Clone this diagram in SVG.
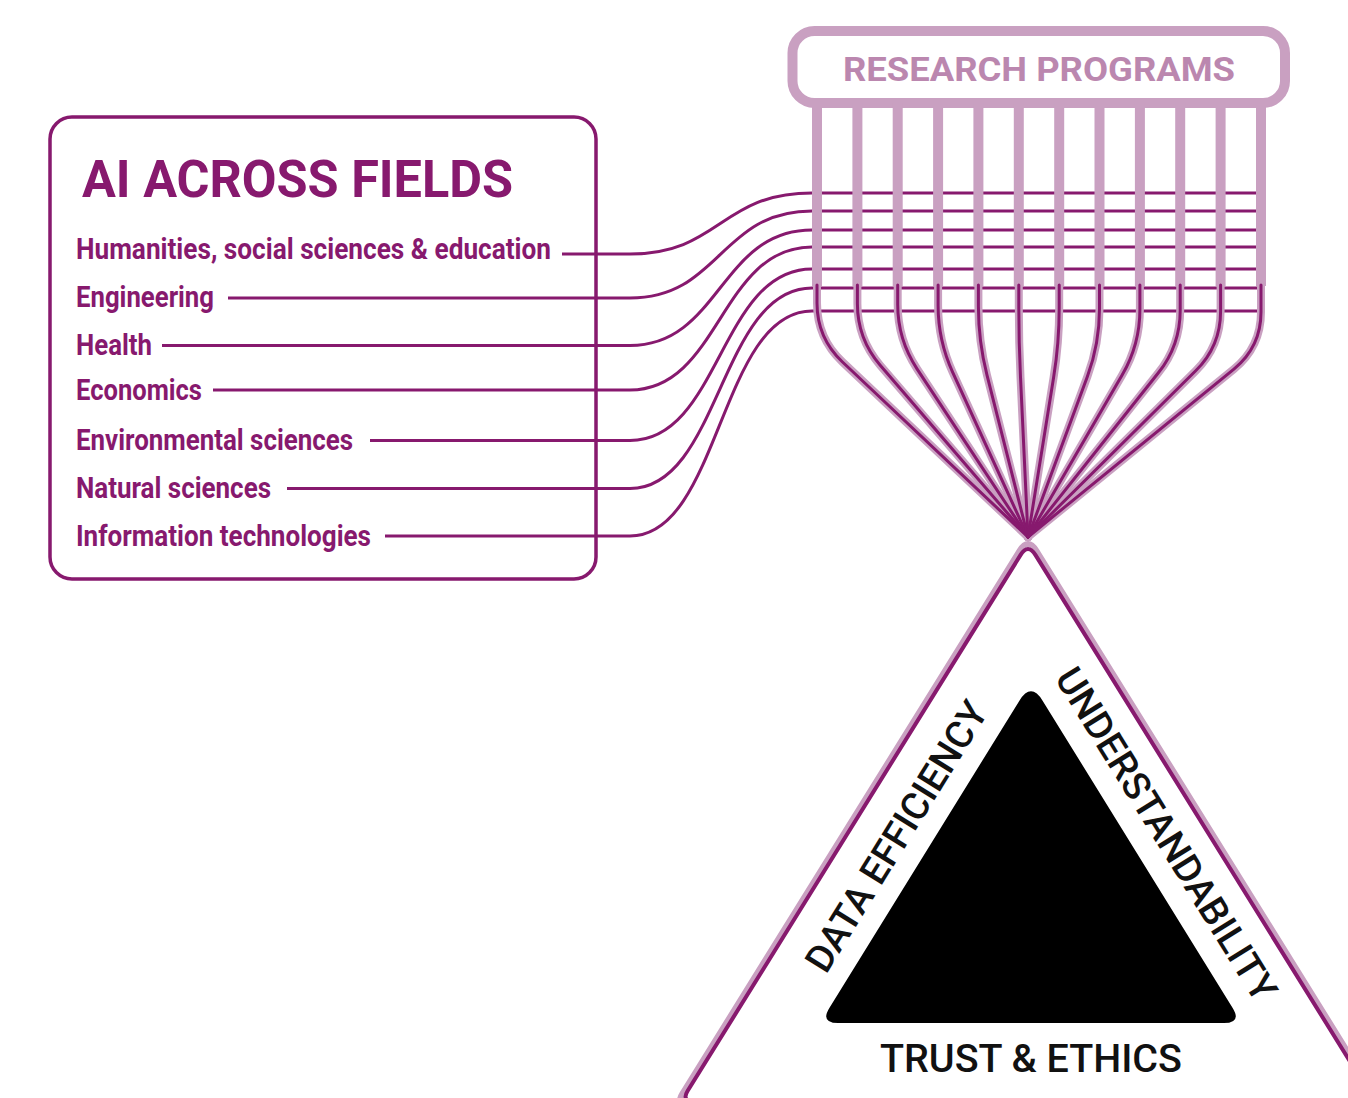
<svg xmlns="http://www.w3.org/2000/svg" width="1348" height="1098" viewBox="0 0 1348 1098">
<style>
.dk{stroke:#87196e;fill:none;stroke-width:3}
.bar{stroke:#c9a0c1;stroke-width:10;fill:none}
.halo{stroke:#c9a0c1;stroke-width:8;fill:none;stroke-linecap:round;stroke-linejoin:round}
.fan{stroke:#87196e;stroke-width:3;fill:none;stroke-linecap:round;stroke-linejoin:round}
.lbl{font-family:Roboto,"Liberation Sans",sans-serif;font-weight:700;fill:#87196e;font-size:30px}
.title{font-family:Roboto,"Liberation Sans",sans-serif;font-weight:700;fill:#87196e;font-size:52px}
.blk{font-family:Roboto,"Liberation Sans",sans-serif;font-weight:500;fill:#111;font-size:38px}
</style>
<rect width="1348" height="1098" fill="#fff"/>

<g id="ai-across-fields">
<rect x="50" y="117" width="546" height="462" rx="22" fill="none" stroke="#87196e" stroke-width="3.5"/>
<text class="title" x="82" y="197" textLength="431" lengthAdjust="spacingAndGlyphs">AI ACROSS FIELDS</text>
<text class="lbl" x="76" y="259" textLength="475" lengthAdjust="spacingAndGlyphs">Humanities, social sciences &amp; education</text>
<text class="lbl" x="76" y="307" textLength="138" lengthAdjust="spacingAndGlyphs">Engineering</text>
<text class="lbl" x="76" y="354.5" textLength="76" lengthAdjust="spacingAndGlyphs">Health</text>
<text class="lbl" x="76" y="400" textLength="126" lengthAdjust="spacingAndGlyphs">Economics</text>
<text class="lbl" x="76" y="450" textLength="277" lengthAdjust="spacingAndGlyphs">Environmental sciences</text>
<text class="lbl" x="76" y="497.5" textLength="195" lengthAdjust="spacingAndGlyphs">Natural sciences</text>
<text class="lbl" x="76" y="545.5" textLength="295" lengthAdjust="spacingAndGlyphs">Information technologies</text>
</g>

<g id="research-programs">
<rect x="792.5" y="31" width="492.5" height="72" rx="22" fill="#fff" stroke="#c9a0c1" stroke-width="10"/>
<text x="843" y="81" font-family="Roboto, 'Liberation Sans', sans-serif" font-weight="700" font-size="34" fill="#bb87af" textLength="392" lengthAdjust="spacingAndGlyphs">RESEARCH PROGRAMS</text>
</g>

<g id="connectors">
<path class="dk" d="M562,254 H630 C720,254 720,193 812,193 H1258"/>
<path class="dk" d="M228,298 H630 C720,298 720,211 812,211 H1258"/>
<path class="dk" d="M162,345.5 H630 C720,345.5 720,230 812,230 H1258"/>
<path class="dk" d="M213,390 H630 C720,390 720,247 812,247 H1258"/>
<path class="dk" d="M370,440.5 H630 C720,440.5 720,269 812,269 H1258"/>
<path class="dk" d="M287,488.5 H630 C720,488.5 720,288 812,288 H1258"/>
<path class="dk" d="M385,536 H630 C720,536 720,311 812,311 H1258"/>

<g class="bar">
<path d="M817,103 V286"/><path d="M857.4,103 V286"/><path d="M897.7,103 V286"/><path d="M938.1,103 V286"/>
<path d="M978.4,103 V286"/><path d="M1018.8,103 V286"/><path d="M1059.2,103 V286"/><path d="M1099.5,103 V286"/>
<path d="M1139.9,103 V286"/><path d="M1180.2,103 V286"/><path d="M1220.6,103 V286"/><path d="M1261,103 V286"/>
</g>

<g class="halo">
<path d="M817,285 V303 Q817,338 842.5,362 L1028,537"/>
<path d="M857.4,285 V303.8 Q857.4,338.8 880.2,365.3 L1028,537"/>
<path d="M897.7,285 V304.6 Q897.7,339.6 917,368.8 L1028,537"/>
<path d="M938.1,285 V305.5 Q938.1,340.5 952.7,372.3 L1028,537"/>
<path d="M978.4,285 V306.3 Q978.4,341.3 987,375.2 L1028,537"/>
<path d="M1018.8,285 V307.1 Q1018.8,342.1 1020.5,377.1 L1028,537"/>
<path d="M1059.2,285 V307.9 Q1059.2,342.9 1053.6,377.5 L1028,537"/>
<path d="M1099.5,285 V308.7 Q1099.5,343.7 1087.4,376.5 L1028,537"/>
<path d="M1139.9,285 V309.5 Q1139.9,344.5 1122.3,374.8 L1028,537"/>
<path d="M1180.2,285 V310.4 Q1180.2,345.4 1158.4,372.8 L1028,537"/>
<path d="M1220.6,285 V311.2 Q1220.6,346.2 1195.7,370.8 L1028,537"/>
<path d="M1261,285 V312 Q1261,347 1233.9,369.1 L1028,537"/>
</g>
<g class="fan">
<path d="M817,285 V303 Q817,338 842.5,362 L1028,537"/>
<path d="M857.4,285 V303.8 Q857.4,338.8 880.2,365.3 L1028,537"/>
<path d="M897.7,285 V304.6 Q897.7,339.6 917,368.8 L1028,537"/>
<path d="M938.1,285 V305.5 Q938.1,340.5 952.7,372.3 L1028,537"/>
<path d="M978.4,285 V306.3 Q978.4,341.3 987,375.2 L1028,537"/>
<path d="M1018.8,285 V307.1 Q1018.8,342.1 1020.5,377.1 L1028,537"/>
<path d="M1059.2,285 V307.9 Q1059.2,342.9 1053.6,377.5 L1028,537"/>
<path d="M1099.5,285 V308.7 Q1099.5,343.7 1087.4,376.5 L1028,537"/>
<path d="M1139.9,285 V309.5 Q1139.9,344.5 1122.3,374.8 L1028,537"/>
<path d="M1180.2,285 V310.4 Q1180.2,345.4 1158.4,372.8 L1028,537"/>
<path d="M1220.6,285 V311.2 Q1220.6,346.2 1195.7,370.8 L1028,537"/>
<path d="M1261,285 V312 Q1261,347 1233.9,369.1 L1028,537"/>
</g>
</g>

<g id="pillars">
<path d="M1400,1104 L688,1104 Q676,1104 682.3,1093.8 L1019.6,550.9 Q1028,537.3 1036.4,550.9 L1400,1136" fill="none" stroke="#c9a0c1" stroke-width="6" stroke-linejoin="round"/>
<path d="M1400,1101 L693.4,1101 Q681.4,1101 687.7,1090.8 L1020.6,554.9 Q1028,543 1035.4,554.9 L1390,1125.8" fill="none" stroke="#87196e" stroke-width="4" stroke-linejoin="round"/>
<path d="M1019.4,700.7 Q1031,682 1042.6,700.7 L1232.5,1007.7 Q1242,1023 1224,1023 L838,1023 Q820,1023 829.5,1007.7 Z" fill="#000"/>
<text class="blk" transform="translate(826,975) rotate(-58.2)" textLength="310" lengthAdjust="spacingAndGlyphs">DATA EFFICIENCY</text>
<text class="blk" transform="translate(1054,678) rotate(58.2)" textLength="384" lengthAdjust="spacingAndGlyphs">UNDERSTANDABILITY</text>
<text class="blk" x="880" y="1072" textLength="302" lengthAdjust="spacingAndGlyphs">TRUST &amp; ETHICS</text>
</g>
</svg>
